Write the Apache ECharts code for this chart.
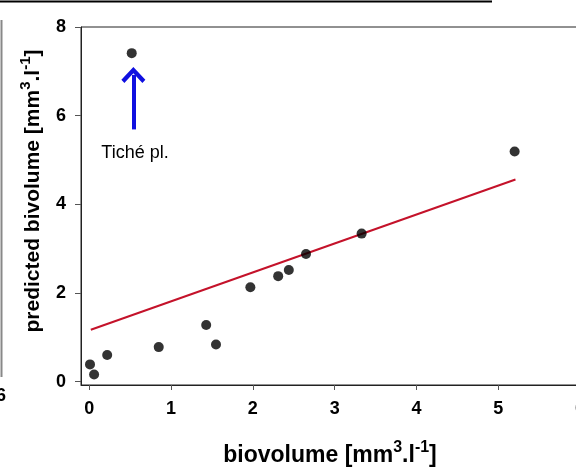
<!DOCTYPE html>
<html>
<head>
<meta charset="utf-8">
<script src="https://cdn.jsdelivr.net/npm/echarts@6/dist/echarts.min.js"></script>
<style>
  html, body { margin: 0; padding: 0; background: #fff; }
  #chart { width: 576px; height: 468px; }
</style>
</head>
<body>
<div id="chart"></div>
<script>
// measured biovolume vs predicted biovolume
const obsX  = [0.01, 0.06, 0.22, 0.85, 1.43, 1.55, 1.97, 2.31, 2.44, 2.65, 3.33, 5.20, 0.52]
const predY = [0.39, 0.16, 0.60, 0.78, 1.28, 0.84, 2.13, 2.38, 2.52, 2.88, 3.34, 5.19, 7.41]

// regression line end points
const fitX = [0.02, 5.21]
const fitY = [1.17, 4.56]

// tick labels
const xTicks = [0, 1, 2, 3, 4, 5, 6]
const yTicks = [0, 2, 4, 6, 8]

// annotation for the outlier
const arrowX = 0.54
const arrowY = [5.69, 6.92]
const noteText = 'Tiché pl.'
const notePos = [0.56, 5.15]

const font = '"Liberation Sans", Arial, sans-serif'

const chart = echarts.init(document.getElementById('chart'), null, { renderer: 'canvas' })

// superscript-ish rich text for axis names
const yNameRich = {
  b: { fontSize: 21, fontWeight: 'bold', fontFamily: font, color: '#000', lineHeight: 30 },
  s: { fontSize: 15, fontWeight: 'bold', fontFamily: font, color: '#000', verticalAlign: 'top' }
}
const xNameRich = {
  b: { fontSize: 23, fontWeight: 'bold', fontFamily: font, color: '#000', lineHeight: 32 },
  s: { fontSize: 16, fontWeight: 'bold', fontFamily: font, color: '#000', verticalAlign: 'top' }
}

chart.setOption({
  backgroundColor: '#fff',
  animation: false,
  grid: {
    left: 81,
    top: 27,
    width: 540,
    height: 358,
    outerBoundsMode: 'none',
    containLabel: false,
    show: true,
    borderColor: '#222',
    borderWidth: 1
  },
  xAxis: {
    type: 'value',
    min: -0.1,
    max: 6.5,
    name: '{b|biovolume [mm}{s|3}{b|.l}{s|-1}{b|]}',
    nameLocation: 'middle',
    nameGap: 55,
    nameTextStyle: { rich: xNameRich, padding: [0, 42, 0, 0] },
    axisLine: { show: true, onZero: false, lineStyle: { color: '#222', width: 1 } },
    axisTick: { show: true, length: 5, customValues: xTicks, lineStyle: { color: '#555' } },
    axisLabel: {
      customValues: xTicks,
      margin: 15,
      fontSize: 18,
      fontWeight: 'bold',
      fontFamily: font,
      color: '#000'
    },
    splitLine: { show: false }
  },
  yAxis: {
    type: 'value',
    min: -0.075,
    max: 8,
    name: '{b|predicted bivolume [mm}{s|3}{b|.l}{s|-1}{b|]}',
    nameLocation: 'middle',
    nameRotate: 90,
    nameGap: 33,
    nameTextStyle: { rich: yNameRich, padding: [0, 0, 0, 30] },
    axisLine: { show: true, onZero: false, lineStyle: { color: '#222', width: 1 } },
    axisTick: { show: true, length: 6, customValues: yTicks, lineStyle: { color: '#555' } },
    axisLabel: {
      customValues: yTicks,
      margin: 15,
      fontSize: 18,
      fontWeight: 'bold',
      fontFamily: font,
      color: '#000'
    },
    splitLine: { show: false }
  },
  series: [
    {
      name: 'fit',
      type: 'line',
      data: fitX.map((x, i) => [x, fitY[i]]),
      symbol: 'none',
      lineStyle: { color: '#c4122a', width: 2 },
      z: 2
    },
    {
      name: 'points',
      type: 'scatter',
      data: obsX.map((x, i) => [x, predY[i]]),
      symbol: 'circle',
      symbolSize: 10,
      clip: false,
      itemStyle: { color: '#000' },
      z: 3,
      markLine: {
        silent: true,
        animation: false,
        symbol: ['none', 'path://M12,0 L24,12 L21,15 L12,6 L3,15 L0,12 Z'],
        symbolSize: [24, 16],
        label: { show: false },
        lineStyle: { color: '#1010e0', width: 4, type: 'solid' },
        data: [[{ coord: [arrowX, arrowY[0]] }, { coord: [arrowX, arrowY[1]] }]]
      },
      markPoint: {
        silent: true,
        animation: false,
        symbol: 'circle',
        symbolSize: 0,
        label: {
          show: true,
          formatter: noteText,
          fontSize: 18,
          fontFamily: font,
          color: '#000'
        },
        data: [{ coord: notePos }]
      }
    }
  ],
  // edges of the neighbouring panels left in the crop
  graphic: [
    { type: 'line', shape: { x1: 0, y1: 1.5, x2: 492, y2: 1.5 }, style: { stroke: '#000', lineWidth: 2 } },
    { type: 'line', shape: { x1: 1.5, y1: 20, x2: 1.5, y2: 377 }, style: { stroke: '#888', lineWidth: 2 } },
    {
      type: 'text', x: 6, y: 396,
      style: { text: '6', fontSize: 18, fontWeight: 'bold', fontFamily: font, fill: '#000', align: 'right', verticalAlign: 'middle' }
    }
  ]
})
</script>
</body>
</html>
